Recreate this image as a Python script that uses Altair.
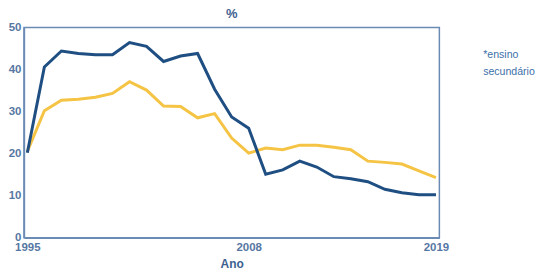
import altair as alt
import pandas as pd

years = list(range(1995, 2020))
total = [20.2, 40.6, 44.4, 43.8, 43.5, 43.5, 46.4, 45.5, 41.9, 43.2, 43.8,
         35.3, 28.7, 26.0, 15.1, 16.1, 18.2, 16.8, 14.5, 14.0, 13.3, 11.5,
         10.7, 10.2, 10.2]
secundario = [20.5, 30.2, 32.7, 32.9, 33.4, 34.3, 37.1, 35.1, 31.3, 31.2, 28.5,
              29.5, 23.7, 20.1, 21.3, 20.9, 22.0, 22.0, 21.5, 20.9, 18.2, 17.9,
              17.5, 15.9, 14.3]
x_ticks = [1995, 2008, 2019]
y_ticks = [0, 10, 20, 30, 40, 50]
note = ["*ensino", "secundário"]

df = pd.DataFrame({"Ano": years, "total": total, "sec": secundario})

FONT = "Liberation Sans"
AXIS_C = "#6b8bb5"
LABEL_C = "#5677a3"

xs = alt.Scale(domain=[1994.8, 2019.2], nice=False, zero=False)
ys = alt.Scale(domain=[0, 50], nice=False)

xaxis = alt.Axis(values=x_ticks, format="d", ticks=False, grid=False,
                 labelPadding=4, title="Ano", titleFontWeight="bold",
                 titlePadding=5, labelFlush=False)
yaxis = alt.Axis(values=y_ticks, ticks=False, grid=False, labelPadding=3, title=None)

base = alt.Chart(df)
yellow = base.mark_line(color="#f5c445", strokeWidth=3).encode(
    x=alt.X("Ano:Q", scale=xs, axis=xaxis),
    y=alt.Y("sec:Q", scale=ys, axis=yaxis),
)
blue = base.mark_line(color="#1f4f82", strokeWidth=3).encode(
    x=alt.X("Ano:Q", scale=xs, axis=xaxis),
    y=alt.Y("total:Q", scale=ys, axis=yaxis),
)
txt = alt.Chart(pd.DataFrame({"t": ["\n".join(note)]})).mark_text(
    align="left", baseline="middle", fontSize=10.6, font=FONT, color="#3b6fa8",
    lineBreak="\n", lineHeight=17,
).encode(x=alt.value(461), y=alt.value(28), text="t:N")

chart = alt.layer(yellow, blue, txt).properties(
    width=417, height=211,
    title=alt.TitleParams("%", anchor="middle", fontSize=13, fontWeight="bold",
                          color="#3d6190", font=FONT, offset=0),
    autosize=alt.AutoSizeParams(type="none"),
    padding={"left": 16, "top": 19, "right": 100, "bottom": 36},
).configure_view(stroke=AXIS_C, strokeWidth=1.5).configure_axis(
    domainColor=AXIS_C, domainWidth=1.5, labelColor=LABEL_C, labelFont=FONT,
    labelFontSize=11.5, labelFontWeight="bold", titleFont=FONT, titleFontSize=12,
    titleColor="#3d6190",
)

chart.save("out.html", embed_options={"renderer": "svg", "actions": False})
